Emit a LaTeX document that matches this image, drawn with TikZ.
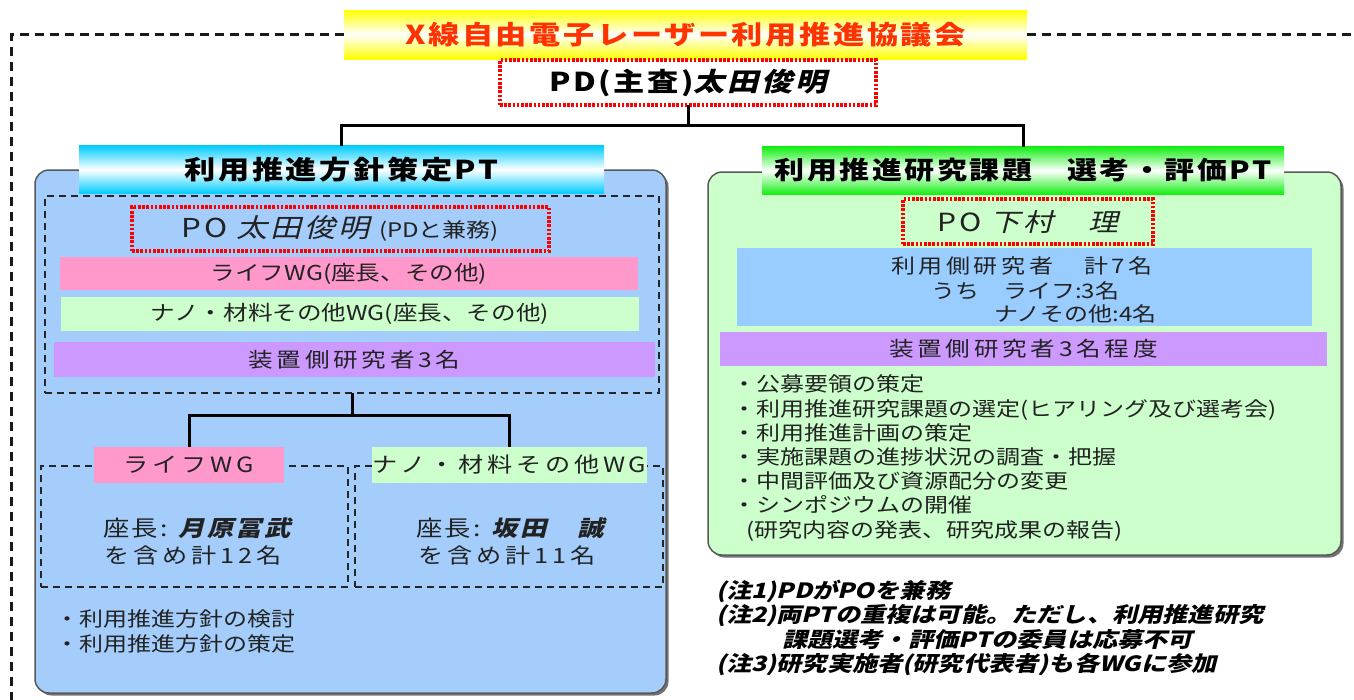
\documentclass[tikz,border=0pt]{standalone}
\usepackage{fontspec}
\newfontfamily\jp{Noto Sans CJK JP}[FakeStretch=1.2, AutoFakeSlant=0.25]
\newfontfamily\jpsp{Noto Sans CJK JP}[FakeStretch=1.2, LetterSpace=18, AutoFakeSlant=0.25]
\newfontfamily\jpt{Noto Sans CJK JP}[FakeStretch=1.2, LetterSpace=10, AutoFakeSlant=0.25]
\newfontfamily\jpbi{Noto Sans CJK JP}[FakeStretch=1.2, FakeSlant=0.25, LetterSpace=10]
\newfontfamily\jpni{Noto Sans CJK JP}[FakeStretch=1.2, FakeSlant=0.25]
\definecolor{panelblue}{HTML}{A4CDFB}
\definecolor{boxblue}{HTML}{99CCFF}
\definecolor{lgreen}{HTML}{CCFFCC}
\definecolor{pinkb}{HTML}{FF99CC}
\definecolor{purpb}{HTML}{CC99FF}
\definecolor{titlered}{HTML}{FF3300}
\definecolor{cyanb}{HTML}{00CCFF}
\definecolor{greenb}{HTML}{11EE11}
\definecolor{txt}{HTML}{222222}
\begin{document}
\begin{tikzpicture}[x=1pt, y=-1pt,
  every node/.style={inner sep=0pt, outer sep=0pt, text=txt},
  bar/.style={rectangle, draw=none},
  reddot/.style={rectangle, draw=red, line width=3.4pt, dash pattern=on 2.6pt off 1.6pt},
  dbox/.style={rectangle, draw=black!85, line width=1.8pt, dash pattern=on 7pt off 5pt},
  conn/.style={draw=black, line width=3pt},
  outerdash/.style={draw=black!90, line width=3pt, dash pattern=on 9pt off 6pt},
  panel/.style={rectangle, rounded corners=14pt, draw=black!65, line width=1.5pt},
  pshadow/.style={rectangle, rounded corners=14pt, fill=black!55, draw=none},
  body/.style={font=\jp\fontsize{20}{24.2}\selectfont},
]
\useasboundingbox (0,0) rectangle (1354,699);

% outer dashed frame
\coordinate (oTL) at (11,34.5);
\coordinate (oBL) at (11,702);
\coordinate (oTR) at (1358,34.5);

% panels
\node[pshadow, minimum width=631, minimum height=523] (panelLs) at (353,434) {};
\node[panel, fill=panelblue, minimum width=631, minimum height=523] (panelL) at (350.5,431.5) {};
\node[pshadow, minimum width=633, minimum height=383] (panelRs) at (1027,366) {};
\node[panel, fill=lgreen, minimum width=633, minimum height=383] (panelR) at (1024.5,363.5) {};

% title banner
\node[bar, top color=yellow, bottom color=yellow, middle color=white,
      minimum width=683, minimum height=49] (title) at (685.5,34.5)
      {\jpt\bfseries\fontsize{26}{30}\selectfont\color{titlered}X線自由電子レーザー利用推進協議会};
\draw[outerdash] (title.west) -- (oTL) -- (oBL);
\draw[outerdash] (title.east) -- (oTR);

% PD
\node[reddot, fill=white, minimum width=376, minimum height=45] (pd) at (688,82.5)
      {\jpt\bfseries\fontsize{26}{30}\selectfont\color{black}PD(主査){\jpbi\bfseries 太田俊明}};

% PT banners
\node[bar, top color=cyanb, bottom color=cyanb, middle color=white,
      minimum width=525, minimum height=48] (ptL) at (341.5,169.5)
      {\jpt\bfseries\fontsize{26}{30}\selectfont\color{black}利用推進方針策定PT};
\node[bar, top color=greenb, bottom color=greenb, middle color=white,
      minimum width=522, minimum height=48] (ptR) at (1023,170.5)
      {\jpt\bfseries\fontsize{25}{30}\selectfont\color{black}利用推進研究課題　選考・評価PT};

\coordinate (j1) at (pd.south |- 0,125);
\draw[conn] (pd.south) -- (j1);
\draw[conn] (ptL.north) |- (j1) -| (ptR.north);

% ---------- left panel contents
\node[dbox, minimum width=614, minimum height=197] (inL) at (352,294.5) {};
\node[reddot, minimum width=417, minimum height=44] (poL) at (340.5,229)
      {\jpt\fontsize{26}{30}\selectfont PO {\jpbi 太田俊明}\ {\jp\fontsize{20}{24}\selectfont (PDと兼務)}};
\node[bar, fill=pinkb, minimum width=578, minimum height=33] (pinkL) at (349,273.5)
      {\jp\fontsize{20.5}{24}\selectfont ライフWG(座長、その他)};
\node[bar, fill=lgreen, minimum width=578, minimum height=34] (greenL) at (350,314)
      {\jp\fontsize{20.5}{24}\selectfont ナノ・材料その他WG(座長、その他)};
\node[bar, fill=purpb, minimum width=601, minimum height=35] (purpL) at (354.5,359.5)
      {\jpsp\fontsize{20.5}{24}\selectfont 装置側研究者3名};

\node[dbox, minimum width=307, minimum height=121] (wgLbox) at (194.5,526.5) {};
\node[dbox, minimum width=308, minimum height=121] (wgRbox) at (509,526.5) {};
\node[bar, fill=pinkb, minimum width=190, minimum height=36] (wgLlab) at (189,465)
      {\jpsp\fontsize{21}{24}\selectfont ライフWG};
\node[bar, fill=lgreen, minimum width=275, minimum height=36] (wgRlab) at (509.5,465)
      {\jpsp\fontsize{21}{24}\selectfont ナノ・材料その他WG};
\coordinate (j2) at (inL.south |- 0,415);
\draw[conn] (inL.south) -- (j2);
\draw[conn] (wgLlab.north) |- (j2) -| (wgRlab.north);

\node (chairL) at (197,528) {\jpt\fontsize{22}{26}\selectfont 座長: {\jpbi\bfseries 月原冨武}};
\node (cntL) at (193,556) {\jpsp\fontsize{21}{26}\selectfont を含め計12名};
\node (chairR) at (510,528) {\jpt\fontsize{22}{26}\selectfont 座長: {\jpbi\bfseries 坂田　誠}};
\node (cntR) at (507,556) {\jpsp\fontsize{21}{26}\selectfont を含め計11名};

\node[body, align=left, anchor=north west] (bulL) at (55,610)
      {・利用推進方針の検討\\・利用推進方針の策定};

% ---------- right panel contents
\node[reddot, minimum width=250, minimum height=45] (poR) at (1028,221.5)
      {\jpt\fontsize{25}{30}\selectfont PO {\jpbi 下村　理}};
\node[bar, fill=boxblue, minimum width=575, minimum height=78] (blueR) at (1024.5,287) {};
\node (blue1) at (1022,266) {\jpsp\fontsize{20}{24}\selectfont 利用側研究者　計7名};
\node[anchor=west] (blue2) at (931,291) {\jp\fontsize{20}{24}\selectfont うち　ライフ:3名};
\node[anchor=west] (blue3) at (994,314) {\jp\fontsize{20}{24}\selectfont ナノその他:4名};
\node[bar, fill=purpb, minimum width=607, minimum height=34] (purpR) at (1023.5,349)
      {\jpsp\fontsize{20.5}{24}\selectfont 装置側研究者3名程度};

\node[body, align=left, anchor=north west] (bulR) at (732,375)
      {・公募要領の策定\\
       ・利用推進研究課題の選定(ヒアリング及び選考会)\\
       ・利用推進計画の策定\\
       ・実施課題の進捗状況の調査・把握\\
       ・中間評価及び資源配分の変更\\
       ・シンポジウムの開催\\
       \hspace*{14pt}(研究内容の発表、研究成果の報告)};

% notes
\node[align=left, anchor=north west, font=\jpni\bfseries\fontsize{21}{24.4}\selectfont, text=black] (notes) at (716,580)
      {(注1)PDがPOを兼務\\
       (注2)両PTの重複は可能。ただし、利用推進研究\\
       \hspace*{66pt}課題選考・評価PTの委員は応募不可\\
       (注3)研究実施者(研究代表者)も各WGに参加};
\end{tikzpicture}
\end{document}
